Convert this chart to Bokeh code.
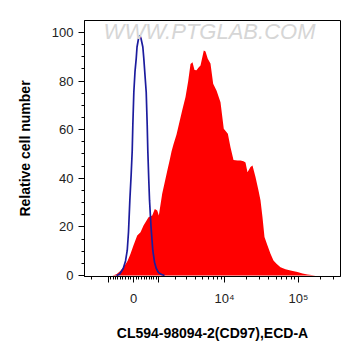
import numpy as np
from bokeh.plotting import figure
from bokeh.models import FixedTicker, Range1d, Label
from bokeh.embed import file_html
from bokeh.resources import INLINE

# ECD-A fluorescence intensity (arcsinh display scale) vs relative cell number
red_x = [-830, -655, -491, -335, -222, -110, 0, 136, 259, 374, 572, 727, 842, 953,
         1030, 1202, 1325, 1479, 1638, 1747, 1881, 2098, 2560, 2863, 3134, 3382,
         3611, 3855, 4114, 4430, 4680, 5200, 5491, 5900, 6430, 7000, 7800, 8817,
         9770, 11100, 12061, 13246, 15009, 16482, 18100, 19264, 20502, 22512,
         23959, 26308, 28883, 30739, 32714, 34815, 38221, 41964, 46067, 50580,
         57290, 66930, 78200, 97220, 113600, 132700, 170400]
red_y = [0, 0.5, 2, 4, 6, 9, 12.5, 16.5, 17.8, 20.6, 24, 24.7, 27.4, 26.7,
         24.7, 33.7, 38, 43, 47.7, 51, 54, 58, 68, 73.4, 80, 87,
         87.7, 84.5, 84.4, 85.7, 86.4, 92.6, 92.2, 89.2, 87.2, 78.9, 76, 71.3,
         60.4, 58.3, 52.8, 47.5, 47.3, 47.3, 47, 46.5, 42.5, 44.6,
         45.3, 40.5, 35, 31, 24, 15.8, 12.3, 9, 6.2, 4.8,
         3.4, 2.6, 2.1, 1.4, 0.8, 0.4, 0]

blue_x = [-655, -531, -385, -297, -233, -185, -136, -85, -48, -26, 11, 55, 99,
          129, 185, 233, 278, 347, 385, 479, 519, 543, 580, 613, 676, 753, 829,
          908, 1016, 1167, 1325]
blue_y = [0, 0.5, 2.9, 6, 10.3, 18, 30.9, 42, 51.4, 61.7, 75.4, 84, 89.2,
          94, 97.5, 98.8, 97.5, 94, 89.2, 75.4, 61.7, 51.4, 40, 31, 20, 10.3, 5.5,
          2.9, 1.2, 0.4, 0]

x_major = [-1000, 0, 1000, 10000, 100000]
x_major_labels = ["", "0", "", "10⁴", "10⁵"]
x_minor = ([-2000] + list(range(-900, 0, 100)) + list(range(100, 1000, 100))
           + list(range(2000, 10000, 1000)) + list(range(20000, 100000, 10000))
           + [200000, 300000])
y_major = [0, 20, 40, 60, 80, 100]
y_minor = [v for v in range(0, 105, 5) if v % 20]

COF = 1182.0


def disp(v):
    return np.arcsinh(np.asarray(v, dtype=float) / COF) / np.log(10)


p = figure(width=361, height=356, output_backend="svg", toolbar_location=None,
           x_range=Range1d(float(disp(-2590)), float(disp(371000))),
           y_range=Range1d(-0.4, 104.9),
           min_border_left=84, min_border_right=21, min_border_top=20,
           min_border_bottom=80)
p.grid.visible = False
p.outline_line_color = "black"
p.outline_line_width = 1
p.background_fill_color = "white"
p.border_fill_color = "white"

wm = Label(x=float(disp(6240)), y=100.4, text="WWW.PTGLAB.COM",
           text_align="center", text_baseline="middle",
           text_font="Liberation Sans", text_font_size="22px",
           text_font_style="italic", text_color="#d6d6d6")
p.add_layout(wm)

p.varea(x=disp(red_x), y1=0, y2=red_y, fill_color="#ff0000", fill_alpha=1)
p.line(disp(blue_x), blue_y, line_color="#1c1c9e", line_width=1.7)

xd_major = [float(v) for v in disp(x_major)]
p.xaxis.ticker = FixedTicker(ticks=xd_major, minor_ticks=[float(v) for v in disp(x_minor)])
p.xaxis.major_label_overrides = {k: lab for k, lab in zip(xd_major, x_major_labels)}
p.yaxis.ticker = FixedTicker(ticks=y_major, minor_ticks=y_minor)

for ax in (p.xaxis[0], p.yaxis[0]):
    ax.axis_line_color = "black"
    ax.major_tick_line_color = "black"
    ax.minor_tick_line_color = "black"
    ax.major_tick_in = 0
    ax.minor_tick_in = 0
    ax.major_tick_out = 6
    ax.minor_tick_out = 3
    ax.major_label_text_font = "Liberation Sans"
    ax.major_label_text_font_size = "13px"
    ax.major_label_text_color = "#222222"
    ax.axis_label_text_font = "Liberation Sans"
    ax.axis_label_text_font_size = "14px"
    ax.axis_label_text_font_style = "bold"
    ax.axis_label_text_color = "black"

p.xaxis.axis_label = "CL594-98094-2(CD97),ECD-A"
p.yaxis.axis_label = "Relative cell number"
p.xaxis.major_label_standoff = 8
p.xaxis.axis_label_standoff = 16
p.yaxis.major_label_standoff = 5
p.yaxis.axis_label_standoff = 16
p.yaxis.major_label_orientation = "horizontal"

open("out.html", "w").write(file_html(p, INLINE))
